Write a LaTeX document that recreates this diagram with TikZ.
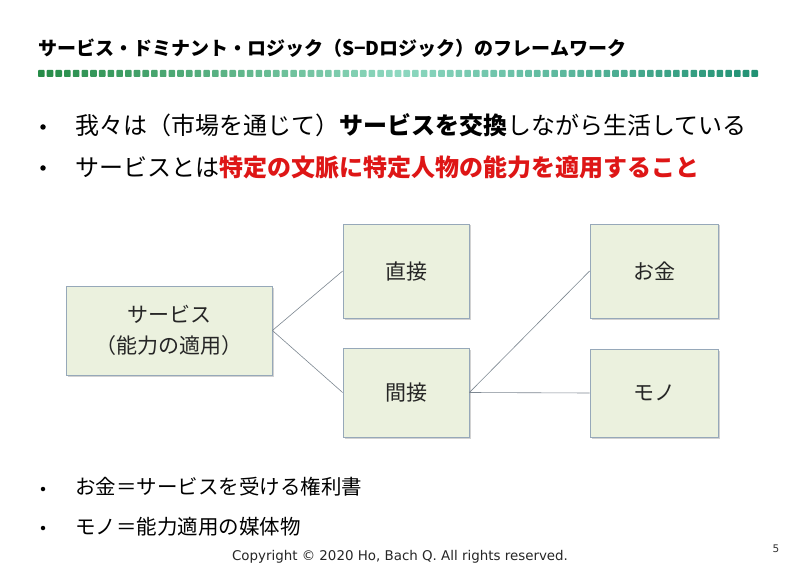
\documentclass[tikz,border=0pt]{standalone}
\usepackage{fontspec}
\setmainfont{DejaVu Sans}
\newfontfamily\jpfont{Noto Sans CJK JP}
\usetikzlibrary{shadows}

\definecolor{boxfill}{RGB}{235,241,222}
\definecolor{boxline}{RGB}{150,168,185}
\definecolor{linkgray}{RGB}{125,135,145}
\definecolor{keyred}{RGB}{222,22,22}
\definecolor{dotA}{RGB}{38,140,72}
\definecolor{dotB}{RGB}{142,216,192}
\definecolor{dotC}{RGB}{34,146,116}

\tikzset{
  concept/.style={draw=boxline, fill=boxfill, line width=0.8pt,
    align=center, text=black!85,
    font=\jpfont\fontsize{21}{31}\selectfont,
    drop shadow={opacity=0.35, shadow xshift=1.5pt, shadow yshift=-1.5pt}},
  link/.style={draw=linkgray, line width=0.6pt},
  bullettext/.style={anchor=west, inner sep=0pt, font=\jpfont\fontsize{24}{28}\selectfont},
  smalltext/.style={anchor=west, inner sep=0pt, font=\jpfont\fontsize{20.5}{24}\selectfont},
  dot/.style={circle, fill=black, inner sep=0pt, minimum size=#1},
  dot/.default=5.5pt,
}

\begin{document}
\begin{tikzpicture}[x=1pt, y=1pt]
    \useasboundingbox (0,0) rectangle (800,571);
    \fill[white] (0,0) rectangle (800,571);

    % title and dotted bar
    \node[anchor=west, inner sep=0pt, font=\jpfont\bfseries\fontsize{19}{22}\selectfont]
        (title) at (38,523) {サービス・ドミナント・ロジック（S−Dロジック）のフレームワーク};
    \foreach \i in {0,...,41} {
        \pgfmathsetmacro\p{100*\i/41}
        \fill[color=dotB!\p!dotA, rounded corners=0.8pt] ({38+8.7*\i},494) rectangle ++(6.6,7);
    }
    \foreach \i in {42,...,82} {
        \pgfmathsetmacro\p{100*(\i-41)/41}
        \fill[color=dotC!\p!dotB, rounded corners=0.8pt] ({38+8.7*\i},494) rectangle ++(6.6,7);
    }

    % upper bullets
    \node[dot] (dotone) at (43,444) {};
    \node[bullettext] (lineone) at (75,446)
        {我々は（市場を通じて）\textbf{サービスを交換}しながら生活している};
    \node[dot] (dottwo) at (43,403) {};
    \node[bullettext] (linetwo) at (75,404)
        {サービスとは\textcolor{keyred}{\bfseries 特定の文脈に特定人物の能力を適用すること}};

    % diagram
    \node[concept, minimum width=206pt, minimum height=89pt] (service) at (169,240.5)
        {サービス\\（能力の適用）};
    \node[concept, minimum width=126pt, minimum height=94pt] (direct) at (406,300) {直接};
    \node[concept, minimum width=126pt, minimum height=89pt] (indirect) at (406,178.5) {間接};
    \node[concept, minimum width=128pt, minimum height=94pt] (money) at (654,300) {お金};
    \node[concept, minimum width=128pt, minimum height=88pt] (goods) at (654,178) {モノ};

    \draw[link] (service.east) -- (direct.west);
    \draw[link] (service.east) -- (indirect.west);
    \draw[link] (indirect.east) -- (money.west);
    \draw[link] (indirect.east) -- (goods.west);

    % lower bullets
    \node[dot=4.5pt] (dotthree) at (43,82) {};
    \node[smalltext] (linethree) at (75,84) {お金＝サービスを受ける権利書};
    \node[dot=4.5pt] (dotfour) at (43,43) {};
    \node[smalltext] (linefour) at (75,44) {モノ＝能力適用の媒体物};

    % footer
    \node[font=\fontsize{13.4}{15}\selectfont, text=black!85] (copy) at (400,14)
        {Copyright © 2020 Ho, Bach Q. All rights reserved.};
    \node[font=\fontsize{10.5}{12}\selectfont, text=black!80] (page) at (776,22) {5};
\end{tikzpicture}
\end{document}
